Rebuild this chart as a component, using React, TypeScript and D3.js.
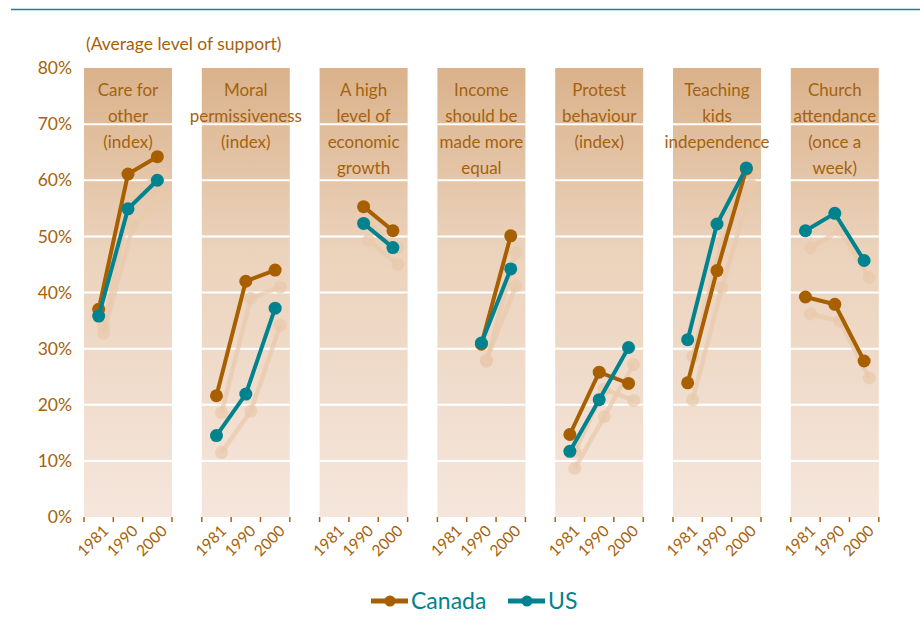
import React from "react";
import * as d3 from "d3";

const categories = [
  ["Care for", "other", "(index)"],
  ["Moral", "permissiveness", "(index)"],
  ["A high", "level of", "economic", "growth"],
  ["Income", "should be", "made more", "equal"],
  ["Protest", "behaviour", "(index)"],
  ["Teaching", "kids", "independence"],
  ["Church", "attendance", "(once a", "week)"],
];
const years = ["1981", "1990", "2000"];
const canada: (number | null)[][] = [
  [37, 61.1, 64.2],
  [21.6, 42, 44],
  [null, 55.3, 51],
  [null, 30.8, 50.1],
  [14.7, 25.8, 23.8],
  [23.9, 43.9, 62],
  [39.2, 37.9, 27.8],
];
const us: (number | null)[][] = [
  [35.8, 54.9, 60],
  [14.5, 21.9, 37.2],
  [null, 52.3, 48],
  [null, 31, 44.2],
  [11.7, 20.9, 30.2],
  [31.6, 52.2, 62.2],
  [51, 54.1, 45.7],
];
const yTicks = [0, 10, 20, 30, 40, 50, 60, 70, 80];

const BROWN = "#a85f00";
const TEAL = "#00838f";
const TEXT = "#a5620c";
const SHADOW = "#e8c9ab";
const FONT = "Lato, 'Open Sans', sans-serif";

export default function App() {
  const W = 920, H = 638;
  const y = d3.scaleLinear().domain([0, 80]).range([517, 68]);
  const panelX = d3.scaleBand<number>().domain(d3.range(7)).range([84, 84 + 117.8 * 7]).paddingInner(0).paddingOuter(0);
  const pw = 88;
  const series = [
    { name: "Canada", data: canada, color: BROWN },
    { name: "US", data: us, color: TEAL },
  ];
  const sdx = 5, sdy = 17;

  return (
    <svg width={W} height={H} style={{ position: "absolute", left: 0, top: 0, background: "#fff" }} fontFamily={FONT}>
      <defs>
        <linearGradient id="bg" gradientUnits="userSpaceOnUse" x1="0" y1={y(80)} x2="0" y2={y(0)}>
          <stop offset="0" stopColor="#dab28b" />
          <stop offset="0.4" stopColor="#ebd2bb" />
          <stop offset="1" stopColor="#f5e6dc" />
        </linearGradient>
      </defs>
      <line x1={11} x2={920} y1={9.5} y2={9.5} stroke="#1f7f8a" strokeWidth={1.5} />
      <text x={86} y={50} fontSize={17.5} fill={TEXT}>(Average level of support)</text>
      {yTicks.map((t) => (
        <text key={t} x={72} y={y(t)} dy="0.35em" textAnchor="end" fontSize={17.5} fill={TEXT}>{t}%</text>
      ))}
      {categories.map((lines, i) => {
        const x0 = panelX(i)!;
        const xb = d3.scaleBand<string>().domain(years).range([x0, x0 + pw]);
        const cx = (yr: string) => xb(yr)! + xb.bandwidth() / 2;
        const ticks = [x0, ...years.slice(1).map((yr) => xb(yr)!), x0 + pw];
        return (
          <g key={i}>
            <rect x={x0} y={y(80)} width={pw} height={y(0) - y(80)} fill="url(#bg)" />
            {yTicks.filter((t) => t > 0 && t < 80).map((t) => (
              <line key={t} x1={x0} x2={x0 + pw} y1={y(t)} y2={y(t)} stroke="#fff" strokeWidth={2} />
            ))}
            {lines.map((l, j) => (
              <text key={j} x={x0 + pw / 2} y={96 + j * 26} textAnchor="middle" fontSize={17} fill={TEXT}>{l}</text>
            ))}
            {ticks.map((tx, j) => (
              <line key={j} x1={tx} x2={tx} y1={y(0)} y2={y(0) + 5} stroke={TEXT} strokeWidth={1.5} />
            ))}
            {years.map((yr) => (
              <text key={yr} transform={`translate(${cx(yr) + 7},${y(0) + 11}) rotate(-45)`} dy="0.35em" textAnchor="end" fontSize={15.5} fill={TEXT}>{yr}</text>
            ))}
            {series.map((s) => {
              const pts = years.map((yr, k) => ({ x: cx(yr), v: s.data[i][k] }));
              const line = d3.line<{ x: number; v: number | null }>().defined((d) => d.v != null).x((d) => d.x + sdx).y((d) => y(d.v as number) + sdy);
              return (
                <g key={"sh" + s.name}>
                  <path d={line(pts) || ""} fill="none" stroke={SHADOW} strokeWidth={4.5} opacity={0.7} />
                  {pts.filter((p) => p.v != null).map((p, k) => (
                    <circle key={k} cx={p.x + sdx} cy={y(p.v as number) + sdy} r={6.5} fill={SHADOW} opacity={0.7} />
                  ))}
                </g>
              );
            })}
            {series.map((s) => {
              const pts = years.map((yr, k) => ({ x: cx(yr), v: s.data[i][k] }));
              const line = d3.line<{ x: number; v: number | null }>().defined((d) => d.v != null).x((d) => d.x).y((d) => y(d.v as number));
              return (
                <g key={s.name}>
                  <path d={line(pts) || ""} fill="none" stroke={s.color} strokeWidth={4} />
                  {pts.filter((p) => p.v != null).map((p, k) => (
                    <circle key={k} cx={p.x} cy={y(p.v as number)} r={6.5} fill={s.color} />
                  ))}
                </g>
              );
            })}
          </g>
        );
      })}
      {series.map((s, i) => {
        const lx = i === 0 ? 371 : 508;
        return (
          <g key={s.name}>
            <line x1={lx} x2={lx + 37} y1={601} y2={601} stroke={s.color} strokeWidth={5} />
            <circle cx={lx + 19} cy={601} r={5.5} fill={s.color} />
            <text x={lx + 40} y={601} dy="0.35em" fontSize={23} fill={TEAL}>{s.name}</text>
          </g>
        );
      })}
    </svg>
  );
}
